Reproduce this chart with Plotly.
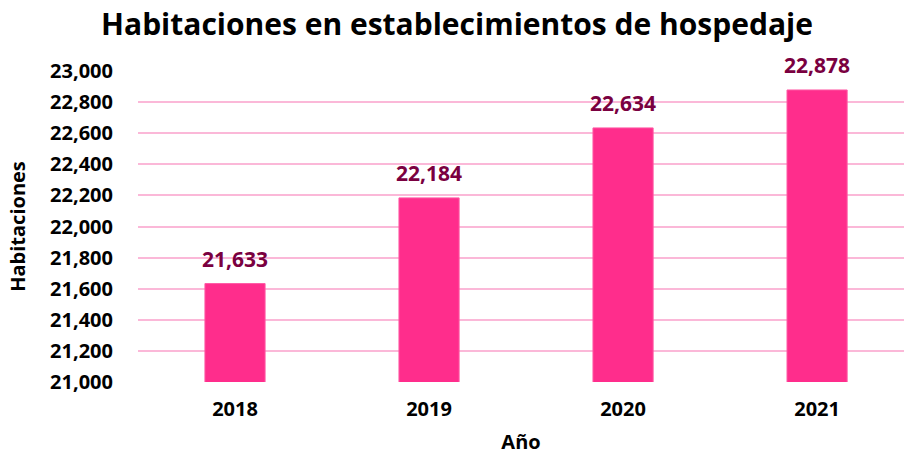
import plotly.graph_objects as go

years = ["2018", "2019", "2020", "2021"]
habitaciones = [21633, 22184, 22634, 22878]
labels = ["21,633", "22,184", "22,634", "22,878"]
y_ticks = list(range(21000, 23001, 200))
y_tick_labels = [f"{v:,}" for v in y_ticks]

FONT = "Open Sans"
fig = go.Figure()
fig.add_trace(go.Bar(
    x=years, y=habitaciones, width=0.31,
    marker=dict(color="#FF2D8C", line=dict(color="#FF5AA5", width=1)),
    hoverinfo="skip",
))
for i, (y, t) in enumerate(zip(habitaciones, labels)):
    fig.add_annotation(x=i, y=y, xref="x", yref="y", text=f"<b>{t}</b>", showarrow=False,
                       yanchor="bottom", yshift=9,
                       font=dict(family=FONT, size=21, color="#7A0040"))

fig.update_layout(
    width=904, height=455,
    margin=dict(l=138, r=0, t=71, b=73),
    paper_bgcolor="white", plot_bgcolor="white",
    title=dict(text="<b>Habitaciones en establecimientos de hospedaje</b>",
               x=457 / 904, xanchor="center", y=1 - 24 / 455, yanchor="middle",
               font=dict(family=FONT, size=30, color="#000000")),
    showlegend=False,
    xaxis=dict(type="category", range=[-0.5, 3.448], showgrid=False,
               showline=False, zeroline=False, automargin=False,
               tickvals=years, ticktext=[f"<b>{y}</b>" for y in years],
               tickfont=dict(family=FONT, size=20, color="#000000"),
               ticklabelstandoff=13,
               title=dict(text="<b>Año</b>", standoff=17,
                          font=dict(family=FONT, size=20, color="#000000"))),
    yaxis=dict(range=[21000, 23000], tickvals=y_ticks,
               ticktext=[f"<b>{t}</b>" for t in y_tick_labels],
               showgrid=True, gridcolor="#FBB8D8", gridwidth=1.5,
               zeroline=False, showline=False, automargin=False,
               tickfont=dict(family=FONT, size=20, color="#000000"),
               ticklabelstandoff=24,
               title=dict(text="<b>Habitaciones</b>", standoff=19,
                          font=dict(family=FONT, size=20, color="#000000"))),
)
fig.write_html("out.html", config={"displayModeBar": False},
               post_script="document.body.style.margin='0px';")
